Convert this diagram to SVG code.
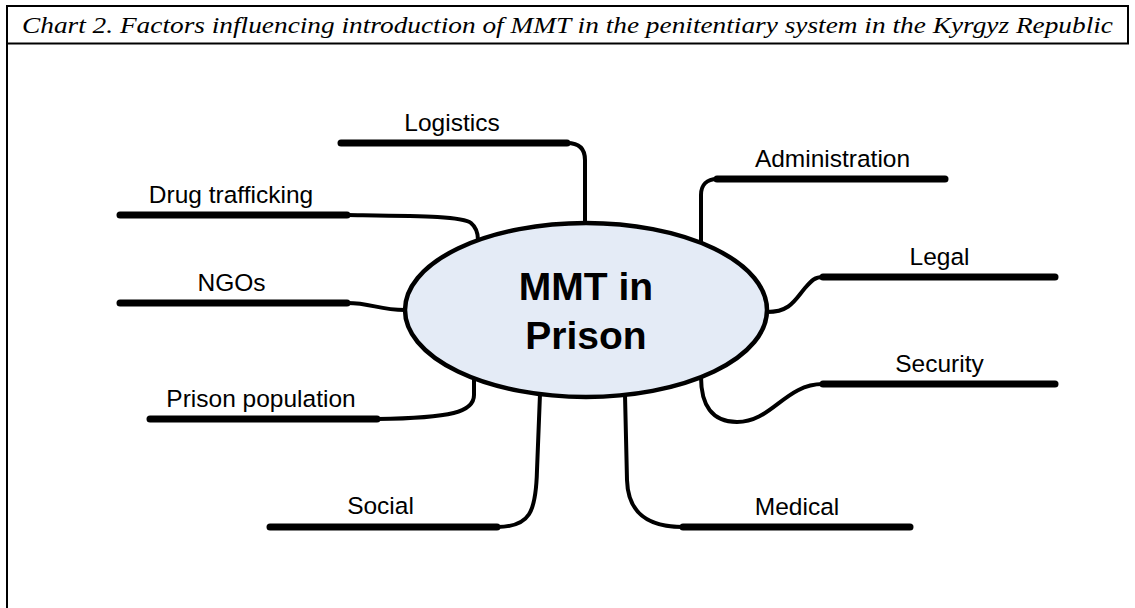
<svg xmlns="http://www.w3.org/2000/svg" width="1135" height="608" viewBox="0 0 1135 608">
<style>
.frame{fill:none;stroke:#000;stroke-width:2}
.title{font-family:"Liberation Serif",serif;font-style:italic;font-size:23px;fill:#000}
.bar{fill:none;stroke:#000;stroke-width:7;stroke-linecap:round}
.link{fill:none;stroke:#000;stroke-width:4;stroke-linecap:round}
.lbl{font-family:"Liberation Sans",Arial,sans-serif;font-size:24.5px;fill:#000;text-anchor:middle}
.hub{fill:#E4EBF6;stroke:#000;stroke-width:4.5}
.hubt{font-family:"Liberation Sans",Arial,sans-serif;font-size:39px;font-weight:bold;fill:#000;text-anchor:middle}
</style>
<rect width="1135" height="608" fill="#fff"/>
<g id="frame">
<rect class="frame" x="7" y="6" width="1121" height="37.5"/>
<line class="frame" x1="7" y1="43" x2="7" y2="608"/>
<text class="title" x="22" y="33" textLength="1091" lengthAdjust="spacingAndGlyphs">Chart 2. Factors influencing introduction of MMT in the penitentiary system in the Kyrgyz Republic</text>
</g>
<g id="connectors">
<path class="link" d="M567,143 C578,143 585,148 585,160 V223"/>
<path class="link" d="M347,215 C420,216 462,216 471,223 C477,228 478,234 478,240"/>
<path class="link" d="M347,303 C372,303 378,310 405,310"/>
<path class="link" d="M377,419 C452,418 474,412 474,395 V380"/>
<path class="link" d="M497,527 C530,527 536,512 537,470 L540,394"/>
<path class="link" d="M625,395 L627,480 C628,515 650,527 683,527"/>
<path class="link" d="M701,377 C701,405 712,422 737,422 C772,422 785,384 823,384"/>
<path class="link" d="M767,312 C790,312 795,300 805,288 C812,280 815,277 823,277"/>
<path class="link" d="M701,243 V195 C701,185 707,179 717,179"/>
</g>
<g id="node-logistics"><line class="bar" x1="341" y1="143" x2="567" y2="143"/><text class="lbl" x="452" y="131">Logistics</text></g>
<g id="node-drug"><line class="bar" x1="120" y1="215" x2="347" y2="215"/><text class="lbl" x="231" y="203">Drug trafficking</text></g>
<g id="node-ngos"><line class="bar" x1="120" y1="303" x2="347" y2="303"/><text class="lbl" x="231.5" y="291">NGOs</text></g>
<g id="node-prison-pop"><line class="bar" x1="150" y1="419" x2="377" y2="419"/><text class="lbl" x="261" y="407">Prison population</text></g>
<g id="node-social"><line class="bar" x1="270" y1="527" x2="497" y2="527"/><text class="lbl" x="380.5" y="514">Social</text></g>
<g id="node-medical"><line class="bar" x1="683" y1="527" x2="910" y2="527"/><text class="lbl" x="797" y="515">Medical</text></g>
<g id="node-security"><line class="bar" x1="823" y1="384" x2="1055" y2="384"/><text class="lbl" x="939.5" y="372">Security</text></g>
<g id="node-legal"><line class="bar" x1="823" y1="277" x2="1055" y2="277"/><text class="lbl" x="939.5" y="265">Legal</text></g>
<g id="node-admin"><line class="bar" x1="717" y1="179" x2="945" y2="179"/><text class="lbl" x="832.5" y="167">Administration</text></g>
<g id="node-hub">
<ellipse class="hub" cx="586" cy="310" rx="181" ry="87"/>
<text class="hubt" x="586" y="300">MMT in</text>
<text class="hubt" x="586" y="349">Prison</text>
</g>
</svg>
